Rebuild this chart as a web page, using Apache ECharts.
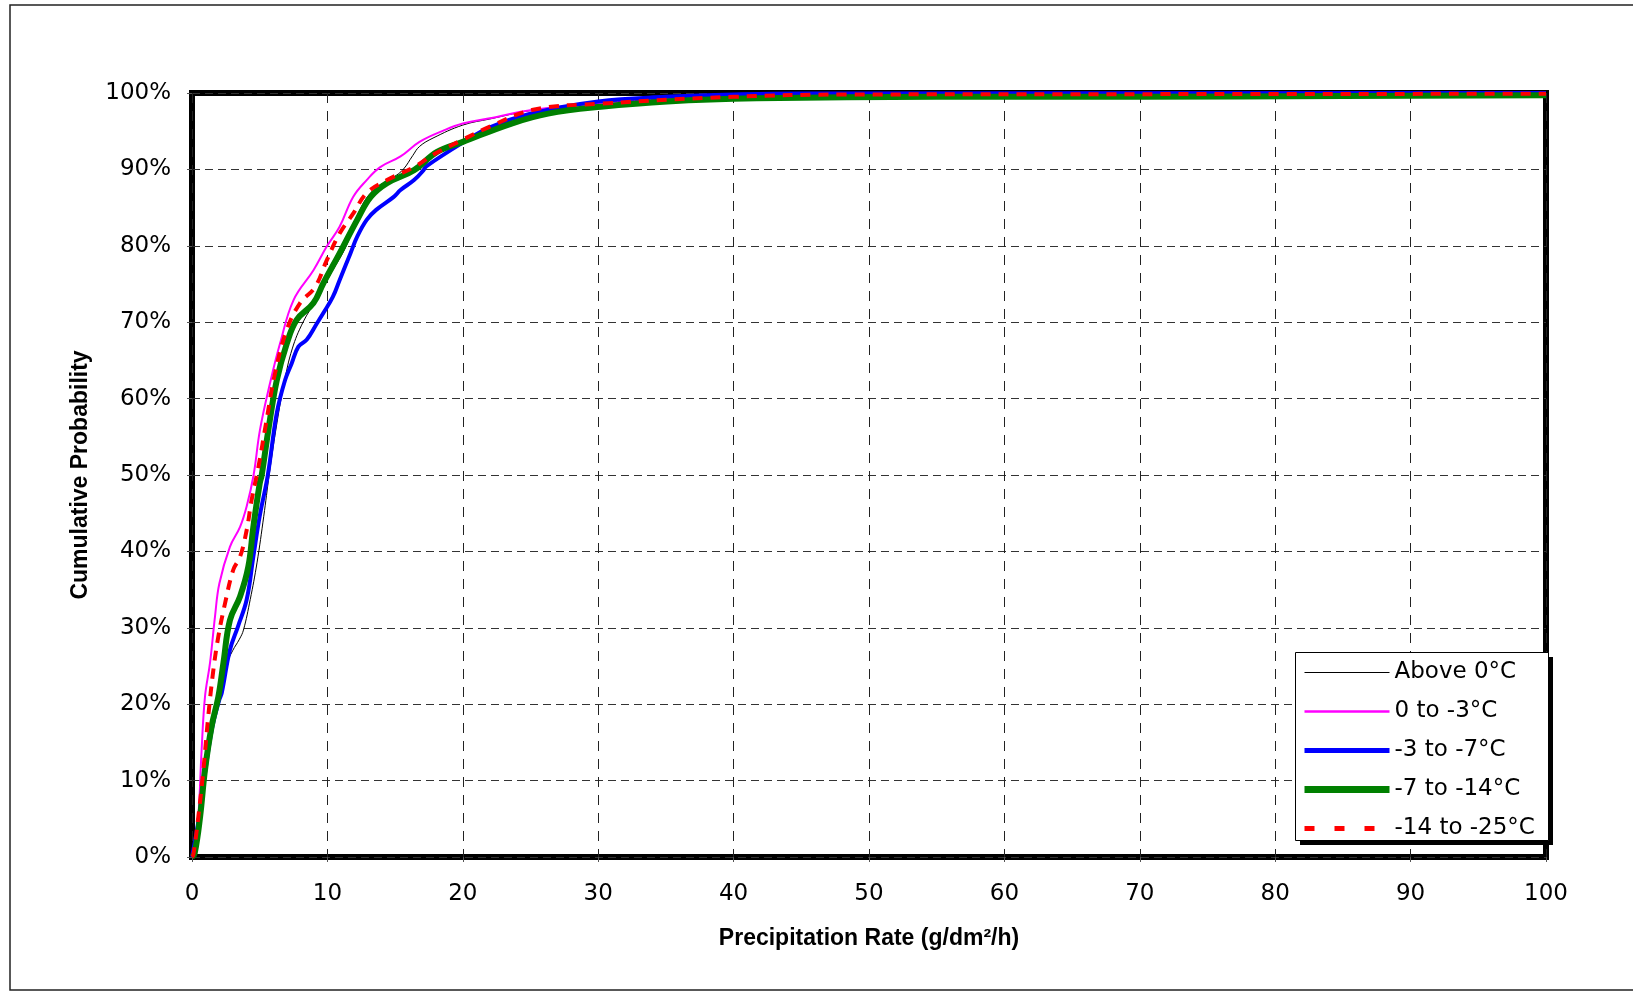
<!DOCTYPE html>
<html>
<head>
<meta charset="utf-8">
<script src="https://cdn.jsdelivr.net/npm/echarts@6/dist/echarts.min.js"></script>
<style>
html,body{margin:0;padding:0;background:#fff;}
#chart{width:1633px;height:991px;}
</style>
</head>
<body>
<div id="chart"></div>
<script>
// ---- data (x: precipitation rate g/dm²/h, y: cumulative probability %) ----
const seriesNames = ['Above 0°C', '0 to -3°C', '-3 to -7°C', '-7 to -14°C', '-14 to -25°C'];
const xTicks = [0, 10, 20, 30, 40, 50, 60, 70, 80, 90, 100];
const yTicks = [0, 10, 20, 30, 40, 50, 60, 70, 80, 90, 100];

const above0 = [[0,0],[0.5,5],[1,11.5],[1.5,17],[2,21],[2.5,25],[3.0,27],[3.5,28.5],[3.8,29.7],[4.3,33.7],[4.8,38.5],[5.3,44.6],[5.7,50],[6.2,56],[6.8,62],[7.4,66.5],[8.2,70],[9.2,73],[10.3,76.5],[11.4,80],[12.4,84.7],[13.4,87.3],[14.9,89],[15.6,90],[16.3,91.8],[16.8,93],[17.8,94.1],[20,95.8],[22,96.6],[25,97.7],[30,98.7],[40,99.5],[50,99.7],[70,99.8],[100,99.9]];
const zeroTo3 = [[0,0],[0.25,2.5],[0.47,5.3],[0.71,14],[0.96,21],[1.33,25.4],[1.7,31.5],[2.02,35.8],[2.8,40.6],[3.55,43.2],[4.04,45.9],[4.55,50],[5.02,55.9],[5.76,62],[6.5,67.2],[7.5,72.9],[8.97,76.8],[9.95,79.9],[10.9,82.5],[11.9,86.4],[12.9,88.6],[13.9,90.3],[15.4,91.7],[16.8,93.6],[18.6,95.1],[20,96],[22,96.7],[25.2,97.8],[30,98.6],[40,99.4],[50,99.7],[70,99.8],[100,99.9]];
const m3To7 = [[0,0],[0.5,5],[1,11.5],[1.5,17],[2.0,20.5],[2.2,21.5],[2.8,27.1],[3.4,30.2],[4.04,33.7],[4.53,39.3],[5.0,44.6],[5.6,50],[6.26,58.1],[6.87,62.4],[7.36,64.6],[7.86,66.8],[8.47,67.7],[9.21,69.8],[9.7,71.2],[10.4,73.3],[10.9,75.5],[11.7,79],[12.2,81.2],[12.9,83.4],[13.6,84.7],[14.9,86.4],[15.4,87.3],[16.4,88.6],[17.1,89.9],[17.3,90.4],[20,93.5],[22,95.5],[25,97.3],[30,98.9],[35,99.5],[40,99.8],[45,99.95],[100,100]];
const m7To14 = [[0,0],[0.2,0.5],[0.6,5.3],[0.96,11.4],[1.45,17.1],[1.95,21],[2.32,25.4],[2.8,31],[3.55,34.1],[4.16,38],[4.53,43.2],[5.0,48.9],[5.15,50],[5.64,55.9],[6.26,62.4],[7.0,67.2],[7.73,70.3],[8.97,72.5],[9.7,75.1],[10.9,79],[12.2,83.4],[13.2,86.4],[14.4,88.2],[16.4,89.9],[18.1,92.3],[20,93.6],[23.6,96],[26.3,97.3],[30.2,98.2],[35.1,98.9],[41.7,99.3],[55,99.5],[70,99.5],[85,99.6],[100,99.7]];
const m14To25 = [[0,0],[0.1,0.3],[0.47,5.3],[0.84,11.4],[1.2,18.4],[1.58,24.5],[1.95,28.9],[2.44,33.2],[3.05,37.6],[3.55,39.3],[4.04,42.8],[4.4,46.7],[4.9,51],[5.47,56.8],[6.13,63.3],[7.0,69],[7.98,72.5],[9.09,74.6],[9.95,78.1],[10.9,81.6],[11.9,84.2],[12.9,86.9],[14.4,88.6],[16.4,90.3],[17.8,91.9],[20,93.9],[22,95.6],[25.2,97.8],[30.2,98.6],[40,99.5],[48.3,99.8],[70,99.85],[100,99.9]];

const seriesData = [above0, zeroTo3, m3To7, m7To14, m14To25];
const colors = ['#000000', '#ff00ff', '#0000ff', '#008000', '#ff0000'];
const widths = [1, 2, 4, 6, 4];
const legendWidths = [1, 2.5, 5, 7, 5];
const dashes = ['solid', 'solid', 'solid', 'solid', [10, 8]];
const legendDashes = ['solid', 'solid', 'solid', 'solid', [10, 20]];

const chart = echarts.init(document.getElementById('chart'), null, {renderer: 'canvas'});
const labelFont = 'DejaVu Sans';
const titleFont = 'Liberation Sans';
const clear = 'rgba(0,0,0,0)';

const option = {
  animation: false,
  backgroundColor: '#fff',
  grid: {
    left: 192, right: 87, top: 93, bottom: 134,
    show: true, borderColor: '#000', borderWidth: 6, backgroundColor: 'transparent'
  },
  graphic: [
    {type: 'rect', z: 0, silent: true, shape: {x: 10, y: 5, width: 1640, height: 985},
     style: {fill: 'none', stroke: '#222', lineWidth: 1.5}},
    {type: 'rect', z: 50, silent: true, shape: {x: 1300, y: 657, width: 253, height: 188},
     style: {fill: '#000'}},
    {type: 'rect', z: 51, silent: true, shape: {x: 1295.5, y: 652.5, width: 253, height: 188},
     style: {fill: '#fff', stroke: '#000', lineWidth: 1}}
  ],
  legend: {
    show: true, orient: 'vertical', left: 1295, top: 653, z: 60,
    padding: [8, 11, 8, 6], itemGap: 16, itemWidth: 85, itemHeight: 14,
    selectedMode: false,
    textStyle: {fontFamily: labelFont, fontSize: 23, color: '#000'},
    data: seriesNames.map((n, i) => ({
      name: n,
      itemStyle: {color: clear, borderColor: clear, borderWidth: 0, opacity: 0},
      lineStyle: {color: colors[i], width: legendWidths[i], type: legendDashes[i], opacity: 1}
    }))
  },
  xAxis: {
    type: 'value', min: 0, max: 100, interval: 10,
    name: 'Precipitation Rate (g/dm²/h)', nameLocation: 'middle', nameGap: 70,
    nameTextStyle: {fontFamily: titleFont, fontWeight: 'bold', fontSize: 23, color: '#000'},
    axisLine: {show: false},
    axisTick: {show: true, length: 5, lineStyle: {color: '#555', width: 1}},
    axisLabel: {margin: 26, fontFamily: labelFont, fontSize: 23, color: '#000',
      formatter: v => xTicks.includes(v) ? String(v) : ''},
    splitLine: {show: true, lineStyle: {color: '#222', width: 1, type: [10, 8]}}
  },
  yAxis: {
    type: 'value', min: 0, max: 100, interval: 10,
    name: 'Cumulative Probability', nameLocation: 'middle', nameGap: 100, nameRotate: 90,
    nameTextStyle: {fontFamily: titleFont, fontWeight: 'bold', fontSize: 23, color: '#000'},
    axisLine: {show: false},
    axisTick: {show: true, length: 5, lineStyle: {color: '#555', width: 1}},
    axisLabel: {margin: 21, fontFamily: labelFont, fontSize: 23, color: '#000',
      formatter: v => yTicks.includes(v) ? v + '%' : ''},
    splitLine: {show: true, lineStyle: {color: '#333', width: 1, type: [8, 5]}}
  },
  series: seriesNames.map((n, i) => ({
    name: n, type: 'line', data: seriesData[i], showSymbol: false, symbol: 'none',
    smooth: 0.4, clip: false,
    lineStyle: {color: colors[i], width: widths[i], type: dashes[i], join: 'round'},
    itemStyle: {color: colors[i]},
    emphasis: {disabled: true}, z: 3 + i
  }))
};
chart.setOption(option);
</script>
</body>
</html>
